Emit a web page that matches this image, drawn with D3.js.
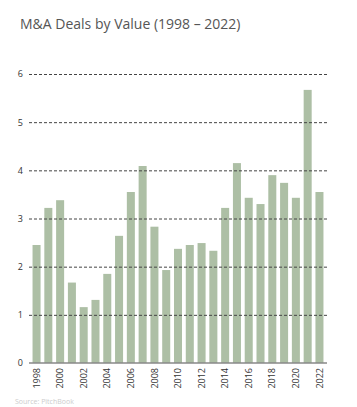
<!DOCTYPE html>
<html><head><meta charset="utf-8">
<script src="https://cdn.jsdelivr.net/npm/d3@7"></script>
<style>html,body{margin:0;padding:0;background:#fff;}svg{display:block;}</style>
</head><body>
<script>
const years = ["1998","1999","2000","2001","2002","2003","2004","2005","2006","2007","2008","2009","2010","2011","2012","2013","2014","2015","2016","2017","2018","2019","2020","2021","2022"];
const values = [2.45,3.22,3.38,1.67,1.16,1.31,1.85,2.64,3.55,4.09,2.83,1.93,2.37,2.45,2.49,2.33,3.22,4.15,3.43,3.30,3.90,3.74,3.43,5.67,3.55];
const yTicks = [0,1,2,3,4,5,6];
const xTickLabels = years.filter((d,i)=>i%2===0);
const title = "M&A Deals by Value (1998 – 2022)";
const source = "Source: PitchBook";

const W=357,H=407;
const svg=d3.select("body").append("svg").attr("width",W).attr("height",H);
const x=d3.scaleBand().domain(years).range([29,327]).paddingInner(0.32).paddingOuter(0.3);
const y=d3.scaleLinear().domain([0,6]).range([363,74]);

svg.append("text").attr("x",20).attr("y",29).text(title)
  .attr("font-family","'Open Sans', sans-serif").attr("font-size",14).attr("fill","#555");

svg.append("g").selectAll("rect").data(values).join("rect")
  .attr("x",(d,i)=>x(years[i])).attr("width",x.bandwidth())
  .attr("y",d=>y(d)).attr("height",d=>y(0)-y(d)).attr("fill","#adbfa5");

const yAxis=svg.append("g").attr("transform","translate(29,0)")
  .call(d3.axisLeft(y).tickValues(yTicks).tickSize(-298).tickPadding(6).tickFormat(d3.format("d")));
yAxis.select(".domain").remove();
yAxis.selectAll(".tick line").attr("stroke","#444").attr("stroke-dasharray","3,2").attr("stroke-width",1)
  .filter(d=>d===0).remove();
yAxis.selectAll("text").attr("font-family","'Open Sans', sans-serif").attr("font-size",9).attr("fill","#333");

svg.append("line").attr("x1",29).attr("x2",327).attr("y1",y(0)).attr("y2",y(0))
  .attr("stroke","#888").attr("stroke-width",1.5);

const xAxis=svg.append("g").attr("transform","translate(0,"+y(0)+")")
  .call(d3.axisBottom(x).tickValues(xTickLabels).tickSize(0).tickPadding(0));
xAxis.select(".domain").remove();
xAxis.selectAll("text").attr("font-family","'Open Sans', sans-serif").attr("font-size",9).attr("fill","#333")
  .attr("transform","rotate(-90)").attr("text-anchor","end").attr("x",-5).attr("y",0).attr("dy","0.35em");

svg.append("text").attr("x",15).attr("y",404).text(source)
  .attr("font-family","'Open Sans', sans-serif").attr("font-size",7).attr("fill","#ccc");
</script>
</body></html>
